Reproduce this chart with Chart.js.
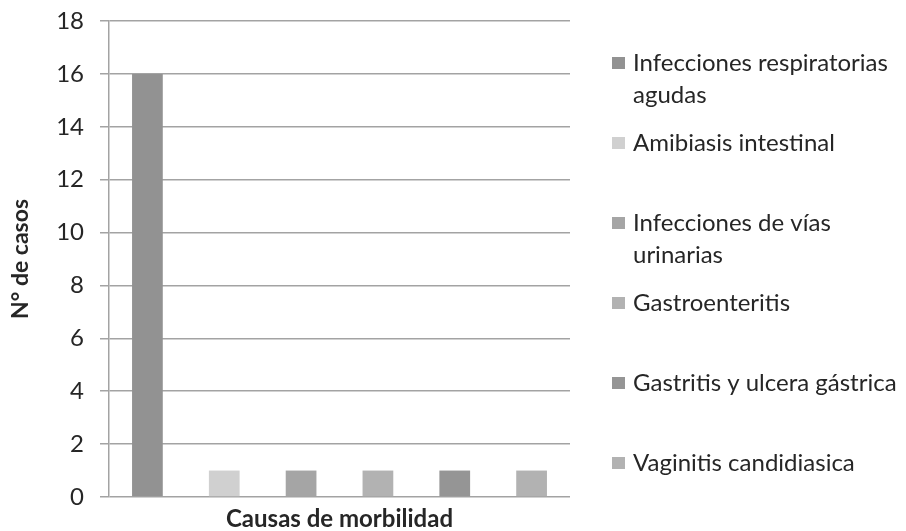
<!DOCTYPE html>
<html>
<head>
<meta charset="utf-8">
<script src="https://cdn.jsdelivr.net/npm/chart.js@4"></script>
<style>
  html,body{margin:0;padding:0;background:#fff;}
  #wrap{width:906px;height:531px;position:relative;}
</style>
</head>
<body>
<div id="wrap"><canvas id="c" width="906" height="531"></canvas></div>
<script>
const categories = [''];
const seriesNames = [
  'Infecciones respiratorias agudas',
  'Amibiasis intestinal',
  'Infecciones de vías urinarias',
  'Gastroenteritis',
  'Gastritis y ulcera gástrica',
  'Vaginitis candidiasica'
];
const seriesValues = [16, 1, 1, 1, 1, 1];
const seriesColors = ['#929292', '#d0d0d0', '#a5a5a5', '#b2b2b2', '#959595', '#b2b2b2'];
const yTicks = [0, 2, 4, 6, 8, 10, 12, 14, 16, 18];
const yTitle = 'N° de casos';
const xTitle = 'Causas de morbilidad';

const FONT = 'Lato, "Open Sans", sans-serif';
const TEXT = '#262626';
const GRID = '#a3a3a3';

const legendPlugin = {
  id: 'sideLegend',
  afterDraw(chart) {
    const ctx = chart.ctx;
    const x0 = 612, tx = 633, maxW = 275;
    const y0 = 63, step = 80, lh = 32;
    ctx.save();
    ctx.font = '24px ' + FONT;
    ctx.textBaseline = 'middle';
    ctx.textAlign = 'left';
    chart.data.datasets.forEach((ds, i) => {
      const y = y0 + i * step;
      ctx.fillStyle = ds.backgroundColor;
      ctx.fillRect(x0, y - 6, 13, 12);
      const words = ds.label.split(' ');
      const lines = [];
      let cur = '';
      words.forEach(w => {
        const t = cur ? cur + ' ' + w : w;
        if (ctx.measureText(t).width > maxW && cur) { lines.push(cur); cur = w; }
        else cur = t;
      });
      if (cur) lines.push(cur);
      ctx.fillStyle = TEXT;
      lines.forEach((ln, k) => ctx.fillText(ln, tx, y + k * lh));
    });
    ctx.restore();
  }
};

const chart = new Chart(document.getElementById('c'), {
  type: 'bar',
  data: {
    labels: categories,
    datasets: seriesNames.map((n, i) => ({
      label: n,
      data: [seriesValues[i]],
      backgroundColor: seriesColors[i],
      borderWidth: 0,
      categoryPercentage: 1.0,
      barPercentage: 0.4
    }))
  },
  options: {
    responsive: false,
    animation: false,
    devicePixelRatio: 1,
    layout: { padding: { top: 21, right: 336, left: 0, bottom: 0 } },
    plugins: { legend: { display: false }, tooltip: { enabled: false } },
    scales: {
      x: {
        grid: { display: false },
        border: { display: false },
        ticks: { display: false },
        title: { display: true, text: xTitle, color: TEXT, font: { family: FONT, size: 24, weight: 'bold', lineHeight: 1 }, padding: { top: 0, bottom: 0 } },
        afterFit(s) { s.height = 34; s.paddingLeft = 0; s.paddingRight = 0; }
      },
      y: {
        min: 0, max: 18,
        afterBuildTicks(s) { s.ticks = yTicks.map(v => ({ value: v })); },
        grid: { color: GRID, lineWidth: 1.5, tickLength: 9, drawTicks: true },
        border: { display: true, color: GRID, width: 1.5 },
        ticks: { color: TEXT, padding: 16, font: { family: FONT, size: 24 } },
        title: { display: true, text: yTitle, color: TEXT, font: { family: FONT, size: 23, weight: 'bold', lineHeight: 1 }, padding: { top: 9, bottom: 0 } },
        afterFit(s) { s.width = 109; s.paddingTop = 0; s.paddingBottom = 0; }
      }
    }
  },
  plugins: [legendPlugin]
});
</script>
</body>
</html>
